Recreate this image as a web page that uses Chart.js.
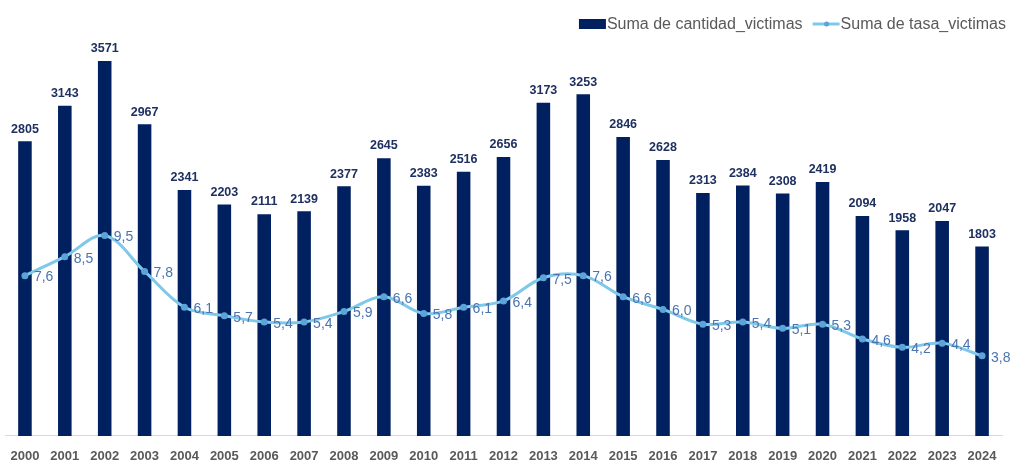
<!DOCTYPE html>
<html>
<head>
<meta charset="utf-8">
<script src="https://cdn.jsdelivr.net/npm/chart.js@4"></script>
<style>
  html, body { margin: 0; padding: 0; background: #ffffff; }
</style>
</head>
<body>
<canvas id="grafico" width="1011" height="461"></canvas>
<script>
const anios = ['2000', '2001', '2002', '2003', '2004', '2005', '2006', '2007', '2008', '2009', '2010', '2011', '2012',
    '2013', '2014', '2015', '2016', '2017', '2018', '2019', '2020', '2021', '2022', '2023', '2024'];
const cantidadVictimas = [2805, 3143, 3571, 2967, 2341, 2203, 2111, 2139, 2377, 2645, 2383, 2516, 2656,
    3173, 3253, 2846, 2628, 2313, 2384, 2308, 2419, 2094, 1958, 2047, 1803];
const tasaVictimas = [7.6, 8.5, 9.5, 7.8, 6.1, 5.7, 5.4, 5.4, 5.9, 6.6, 5.8, 6.1, 6.4,
    7.5, 7.6, 6.6, 6.0, 5.3, 5.4, 5.1, 5.3, 4.6, 4.2, 4.4, 3.8];
const nombresSeries = ['Suma de cantidad_victimas', 'Suma de tasa_victimas'];

const colorBarra = '#002060';
const colorLinea = '#7ec8ea';
const colorPunto = '#5ba3d9';

// etiquetas de datos y leyenda dibujadas a mano
const etiquetas = {
    id: 'etiquetas',
    afterDatasetsDraw(chart) {
        const ctx = chart.ctx;
        ctx.save();
        const barras = chart.getDatasetMeta(0).data;
        ctx.font = 'bold 12.5px "Liberation Sans", Arial, sans-serif';
        ctx.fillStyle = '#1f3060';
        ctx.textAlign = 'center';
        ctx.textBaseline = 'bottom';
        barras.forEach((el, i) => {
            ctx.fillText(String(cantidadVictimas[i]), el.x, el.y - 6);
        });
        const puntos = chart.getDatasetMeta(1).data;
        ctx.font = '14px "Liberation Sans", Arial, sans-serif';
        ctx.fillStyle = '#4a74b0';
        ctx.textAlign = 'left';
        ctx.textBaseline = 'middle';
        puntos.forEach((el, i) => {
            ctx.fillText(tasaVictimas[i].toFixed(1).replace('.', ','), el.x + 9, el.y + 2);
        });
        ctx.restore();
    },
    afterDraw(chart) {
        const ctx = chart.ctx;
        ctx.save();
        ctx.font = '16px "Liberation Sans", Arial, sans-serif';
        ctx.textBaseline = 'middle';
        ctx.textAlign = 'left';
        const y = 24;
        const w1 = ctx.measureText(nombresSeries[0]).width;
        const w2 = ctx.measureText(nombresSeries[1]).width;
        const x2 = 1006 - w2;
        const lineaIni = x2 - 28;
        const x1 = lineaIni - 10 - w1;
        const cajaIni = x1 - 28;

        ctx.fillStyle = colorBarra;
        ctx.fillRect(cajaIni, y - 5, 27, 10);
        ctx.fillStyle = '#595959';
        ctx.fillText(nombresSeries[0], x1, y + 1);

        ctx.strokeStyle = colorLinea;
        ctx.lineWidth = 3;
        ctx.beginPath();
        ctx.moveTo(lineaIni, y);
        ctx.lineTo(x2 - 1, y);
        ctx.stroke();
        ctx.fillStyle = colorPunto;
        ctx.beginPath();
        ctx.arc((lineaIni + x2) / 2, y, 2.5, 0, Math.PI * 2);
        ctx.fill();
        ctx.fillStyle = '#595959';
        ctx.fillText(nombresSeries[1], x2, y + 1);
        ctx.restore();
    }
};

new Chart(document.getElementById('grafico').getContext('2d'), {
    type: 'bar',
    data: {
        labels: anios,
        datasets: [{
            type: 'bar',
            label: nombresSeries[0],
            data: cantidadVictimas,
            backgroundColor: colorBarra,
            borderWidth: 0,
            barPercentage: 0.34,
            categoryPercentage: 1,
            yAxisID: 'y',
            order: 2
        }, {
            type: 'line',
            label: nombresSeries[1],
            data: tasaVictimas,
            borderColor: colorLinea,
            borderWidth: 3,
            tension: 0.35,
            pointRadius: 3.5,
            pointBackgroundColor: colorPunto,
            pointBorderColor: colorPunto,
            pointBorderWidth: 0,
            yAxisID: 'y1',
            order: 1
        }]
    },
    options: {
        responsive: false,
        animation: false,
        layout: {
            padding: { top: 40, left: 5, right: 9, bottom: -16 }
        },
        plugins: {
            legend: { display: false },
            tooltip: { enabled: false }
        },
        scales: {
            x: {
                grid: { display: true, drawOnChartArea: false, drawTicks: false, tickLength: 0 },
                border: { display: true, color: '#d9d9d9', width: 1 },
                ticks: {
                    color: '#595959',
                    padding: 2,
                    font: { family: '"Liberation Sans", Arial, sans-serif', size: 13, weight: 'bold', lineHeight: 2.85 }
                }
            },
            y: {
                display: false,
                min: 0,
                max: 3770
            },
            y1: {
                display: false,
                position: 'right',
                min: 0,
                max: 18.77
            }
        }
    },
    plugins: [etiquetas]
});
</script>
</body>
</html>
